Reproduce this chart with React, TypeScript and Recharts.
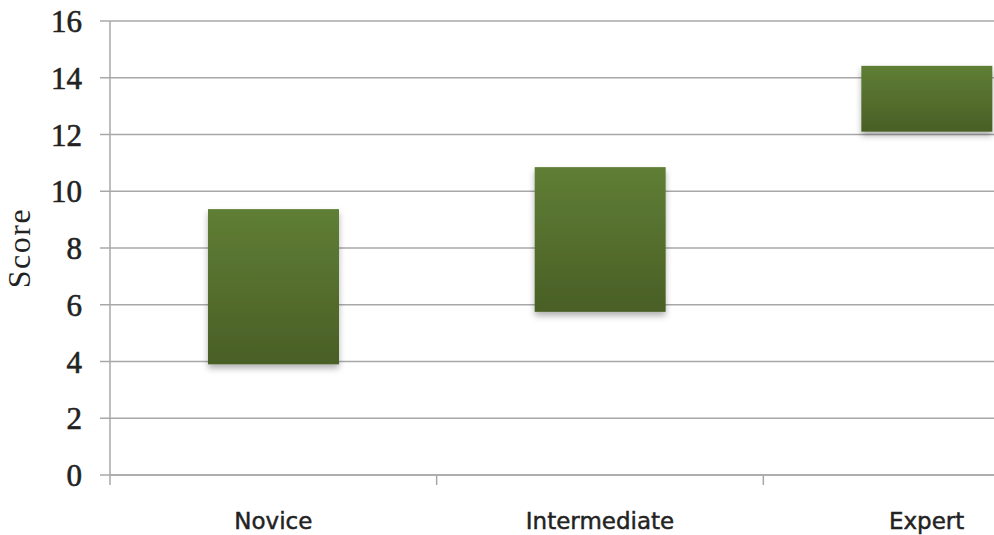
import React from 'react';
import { BarChart, Bar, XAxis, YAxis, CartesianGrid } from 'recharts';

const categories = ['Novice', 'Intermediate', 'Expert'];
const lowValues = [3.9, 5.75, 12.1];
const highValues = [9.37, 10.85, 14.42];
const yTicks = [0, 2, 4, 6, 8, 10, 12, 14, 16];

const data = categories.map((name, i) => ({ name, range: [lowValues[i], highValues[i]] }));

const GRID = '#a8a8a8';

const XTick = (props: any) => {
  const { x, y, payload } = props;
  const off = payload && payload.offset ? payload.offset : 0;
  return (
    <g>
      <line x1={x - off} x2={x - off} y1={y - 10} y2={y} stroke={GRID} strokeWidth={1.5} />
      <text
        x={x}
        y={y + 44}
        textAnchor="middle"
        fill="#222"
        stroke="#222"
        strokeWidth={0.45}
        fontFamily="'DejaVu Sans', sans-serif"
        fontSize={23}
      >
        {payload.value}
      </text>
    </g>
  );
};

const BarShape = (props: any) => {
  const { x, y, width, height } = props;
  return (
    <rect x={x} y={y} width={width} height={height} fill="url(#barGrad)" filter="url(#barShadow)" />
  );
};

export default function App() {
  return (
    <div style={{ position: 'fixed', left: 0, top: 0, width: 994, height: 535, overflow: 'hidden', background: '#fff' }}>
      <BarChart
        width={1100}
        height={535}
        data={data}
        margin={{ top: 21, right: 10, bottom: 0, left: 0 }}
        barCategoryGap="30%"
      >
        <defs>
          <linearGradient id="barGrad" x1="0" y1="0" x2="0" y2="1">
            <stop offset="0%" stopColor="#5f7e35" />
            <stop offset="100%" stopColor="#4a5f26" />
          </linearGradient>
          <filter id="barShadow" x="-10%" y="-10%" width="120%" height="130%">
            <feDropShadow dx="0" dy="4" stdDeviation="3" floodColor="#000" floodOpacity="0.3" />
          </filter>
        </defs>
        <CartesianGrid vertical={false} stroke={GRID} strokeWidth={1.5} />
        <XAxis
          dataKey="name"
          height={60}
          axisLine={{ stroke: GRID, strokeWidth: 1.5 }}
          tickLine={false}
          tickSize={10}
          tickMargin={0}
          tick={<XTick />}
          interval={0}
        />
        <YAxis
          width={110}
          domain={[0, 16]}
          ticks={yTicks}
          interval={0}
          axisLine={{ stroke: GRID, strokeWidth: 1.5 }}
          tickLine={{ stroke: GRID, strokeWidth: 1.5 }}
          tickSize={10}
          tickMargin={18}
          tick={{ fill: '#222', stroke: '#222', strokeWidth: 0.6, fontFamily: "'Liberation Serif', serif", fontSize: 31 }}
          label={{
            value: 'Score',
            angle: -90,
            position: 'insideLeft',
            dx: 14,
            style: { fill: '#222', fontFamily: "'Liberation Serif', serif", fontSize: 32, letterSpacing: 1.5, textAnchor: 'middle' },
          }}
        />
        <Bar dataKey="range" shape={<BarShape />} isAnimationActive={false} />
      </BarChart>
    </div>
  );
}
